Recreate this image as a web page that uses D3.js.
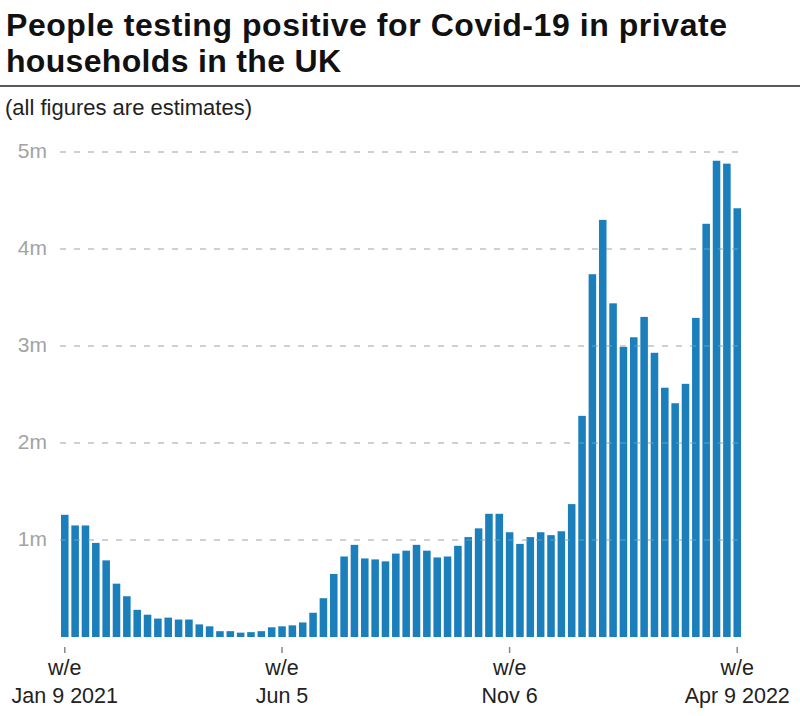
<!DOCTYPE html>
<html>
<head>
<meta charset="utf-8">
<script src="https://cdn.jsdelivr.net/npm/d3@7"></script>
<style>
  body { margin: 0; background: #fff; }
  text { font-family: "Liberation Sans", Arial, sans-serif; }
</style>
</head>
<body>
<script>
var w = 800;
var h = 716;

// week ending dates
var weeks = [
  "Jan 9 2021","Jan 16 2021","Jan 23 2021","Jan 30 2021","Feb 6 2021","Feb 13 2021","Feb 20 2021","Feb 27 2021",
  "Mar 6 2021","Mar 13 2021","Mar 20 2021","Mar 27 2021","Apr 3 2021","Apr 10 2021","Apr 17 2021","Apr 24 2021",
  "May 1 2021","May 8 2021","May 15 2021","May 22 2021","May 29 2021","Jun 5 2021","Jun 12 2021","Jun 19 2021",
  "Jun 26 2021","Jul 3 2021","Jul 10 2021","Jul 17 2021","Jul 24 2021","Jul 31 2021","Aug 7 2021","Aug 14 2021",
  "Aug 21 2021","Aug 28 2021","Sep 4 2021","Sep 11 2021","Sep 18 2021","Sep 25 2021","Oct 2 2021","Oct 9 2021",
  "Oct 16 2021","Oct 23 2021","Oct 30 2021","Nov 6 2021","Nov 13 2021","Nov 20 2021","Nov 27 2021","Dec 4 2021",
  "Dec 11 2021","Dec 18 2021","Dec 25 2021","Jan 1 2022","Jan 8 2022","Jan 15 2022","Jan 22 2022","Jan 29 2022",
  "Feb 5 2022","Feb 12 2022","Feb 19 2022","Feb 26 2022","Mar 5 2022","Mar 12 2022","Mar 19 2022","Mar 26 2022",
  "Apr 2 2022","Apr 9 2022"
];

// people testing positive, millions
var positives = [
  1.26,1.15,1.15,0.97,0.79,0.55,0.42,0.28,0.23,0.19,0.20,0.18,0.18,0.13,0.11,0.06,
  0.06,0.045,0.05,0.06,0.10,0.11,0.12,0.15,0.25,0.40,0.65,0.83,0.95,0.81,0.80,0.78,
  0.86,0.89,0.95,0.89,0.82,0.83,0.94,1.03,1.12,1.27,1.27,1.08,0.96,1.03,1.08,1.05,
  1.09,1.37,2.28,3.74,4.30,3.44,2.99,3.09,3.30,2.93,2.57,2.41,2.61,3.29,4.26,4.91,
  4.88,4.42
];

var yTicks = [1, 2, 3, 4, 5];
var yTickLabels = ["1m", "2m", "3m", "4m", "5m"];

var xTicks = ["Jan 9 2021", "Jun 5 2021", "Nov 6 2021", "Apr 9 2022"];
var xTickLabels = [["w/e", "Jan 9 2021"], ["w/e", "Jun 5"], ["w/e", "Nov 6"], ["w/e", "Apr 9 2022"]];

var barColor = "#1b7fbc";

var svg = d3.select("body")
            .append("svg")
            .attr("width", w)
            .attr("height", h);

// title block
svg.append("text")
    .attr("x", 6).attr("y", 36)
    .attr("font-size", 32).attr("font-weight", "bold").attr("fill", "#111")
    .attr("textLength", 721).attr("lengthAdjust", "spacing")
    .text("People testing positive for Covid-19 in private");
svg.append("text")
    .attr("x", 6).attr("y", 72)
    .attr("font-size", 32).attr("font-weight", "bold").attr("fill", "#111")
    .attr("textLength", 335).attr("lengthAdjust", "spacing")
    .text("households in the UK");
svg.append("line")
    .attr("x1", 0).attr("x2", w).attr("y1", 86).attr("y2", 86)
    .attr("stroke", "#222").attr("stroke-width", 1.5);
svg.append("text")
    .attr("x", 5).attr("y", 115)
    .attr("font-size", 22).attr("fill", "#222")
    .text("(all figures are estimates)");

var xScale = d3.scaleBand()
                .domain(weeks)
                .range([61, 741])
                .paddingInner(0.27)
                .paddingOuter(0);

var yScale = d3.scaleLinear()
                .domain([0, 5])
                .range([637, 152]);

// gridlines
var grid = svg.append("g");
grid.selectAll("line")
    .data(yTicks)
    .enter()
    .append("line")
    .attr("x1", 60).attr("x2", 739)
    .attr("y1", function(d){ return yScale(d); })
    .attr("y2", function(d){ return yScale(d); })
    .attr("stroke", "#b8b8b8")
    .attr("stroke-width", 1.4)
    .attr("stroke-dasharray", "6,8");

grid.selectAll("text")
    .data(yTicks)
    .enter()
    .append("text")
    .attr("x", 47)
    .attr("y", function(d){ return yScale(d) + 6; })
    .attr("text-anchor", "end")
    .attr("font-size", 21)
    .attr("fill", "#a3a3a3")
    .text(function(d, i){ return yTickLabels[i]; });

// bars
svg.append("g")
    .selectAll("rect")
    .data(positives)
    .enter()
    .append("rect")
    .attr("x", function(d, i){ return xScale(weeks[i]); })
    .attr("y", function(d){ return yScale(d); })
    .attr("width", xScale.bandwidth())
    .attr("height", function(d){ return yScale(0) - yScale(d); })
    .attr("fill", barColor);

// faint gridlines showing through the bars
svg.append("g")
    .selectAll("line")
    .data(yTicks)
    .enter()
    .append("line")
    .attr("x1", 60).attr("x2", 739)
    .attr("y1", function(d){ return yScale(d); })
    .attr("y2", function(d){ return yScale(d); })
    .attr("stroke", "#fff")
    .attr("stroke-opacity", 0.18)
    .attr("stroke-width", 1.4)
    .attr("stroke-dasharray", "6,8");

// x axis
var xAxis = d3.axisBottom(xScale)
              .tickValues(xTicks)
              .tickSize(6)
              .tickSizeOuter(0)
              .tickFormat("");

var axisG = svg.append("g")
    .attr("transform", "translate(0,647)")
    .call(xAxis);

axisG.select(".domain").remove();
axisG.selectAll(".tick line")
    .attr("stroke", "#888")
    .attr("stroke-width", 1.5);

axisG.selectAll(".tick text").remove();
axisG.selectAll(".tick")
    .each(function(d, i){
        var t = d3.select(this).append("text")
            .attr("text-anchor", "middle")
            .attr("font-size", 21.5)
            .attr("fill", "#222");
        t.append("tspan").attr("x", 0).attr("y", 28).text(xTickLabels[i][0]);
        t.append("tspan").attr("x", 0).attr("y", 56).text(xTickLabels[i][1]);
    });
</script>
</body>
</html>
